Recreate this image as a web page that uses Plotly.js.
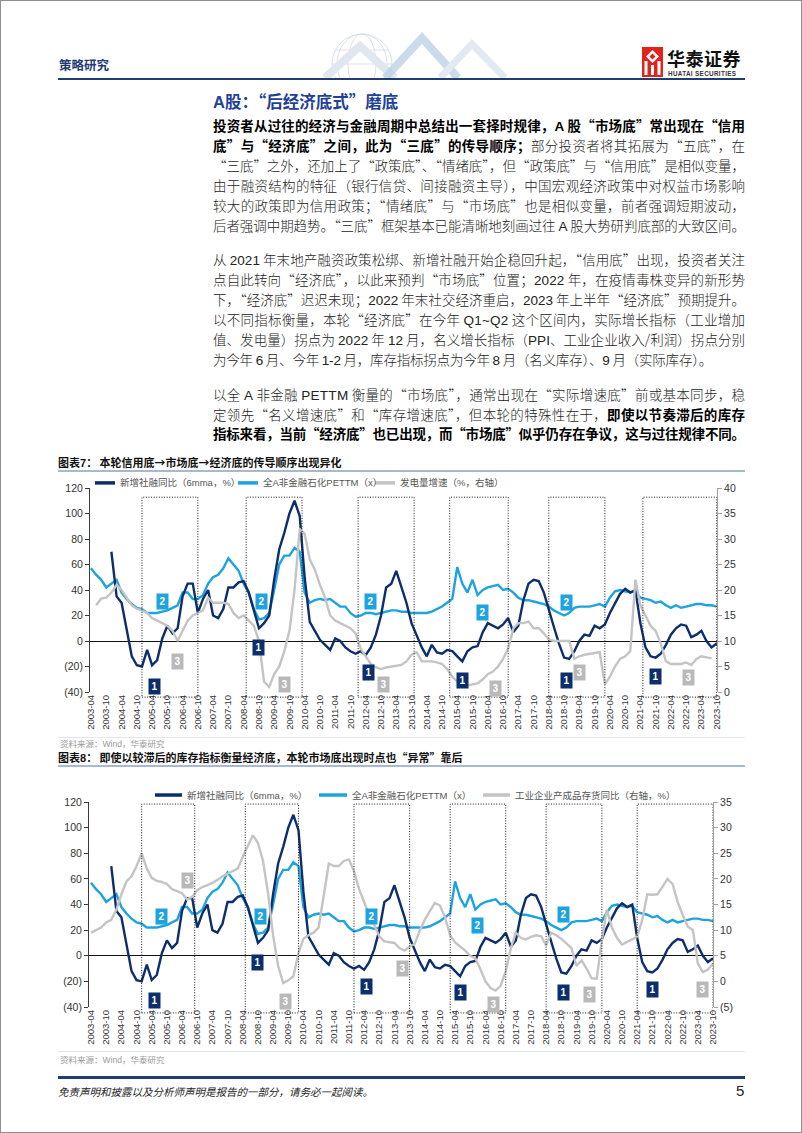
<!DOCTYPE html>
<html lang="zh-CN">
<head>
<meta charset="utf-8">
<title>A股：后经济底式磨底</title>
<script src="https://cdn.plot.ly/plotly-3.0.1.min.js"></script>
<style>
html,body{margin:0;padding:0;background:#fff;}
body{width:802px;height:1133px;position:relative;overflow:hidden;font-family:"Noto Sans CJK SC",sans-serif;color:#222;}
.frame{position:absolute;left:0;top:0;width:800px;height:1131px;border:1px solid #8f8f8f;pointer-events:none;z-index:5;}
.abs{position:absolute;white-space:nowrap;}
.lat{font-family:"Liberation Sans",Arial,sans-serif;}
.tl{position:absolute;left:213px;width:532px;height:20px;line-height:20px;font-size:13.5px;font-weight:300;color:#222;white-space:nowrap;}
.tl b{font-weight:700;color:#000;}
.hr{position:absolute;left:58px;width:687px;}
.ctitle{position:absolute;left:58px;font-size:11px;font-weight:700;color:#111;line-height:14px;white-space:nowrap;}
.src{position:absolute;left:60px;font-size:8.5px;color:#9a9a9a;line-height:12px;white-space:nowrap;}
.chart{position:absolute;left:0;width:802px;height:268px;}
</style>
</head>
<body>
<div class="frame"></div>

<!-- header -->
<svg class="abs" style="left:300px;top:28px" width="220" height="50" viewBox="0 0 220 50">
  <g fill="none" stroke="#d3dbe4" stroke-width="0.8">
    <circle cx="62" cy="36" r="30"/>
    <ellipse cx="62" cy="36" rx="14" ry="30"/>
    <ellipse cx="62" cy="36" rx="25" ry="30"/>
    <line x1="32" y1="36" x2="92" y2="36"/>
    <line x1="36" y1="22" x2="88" y2="22"/>
  </g>
  <polyline points="25,50 60,18 95,50" fill="none" stroke="#e1e7ee" stroke-width="8"/>
  <polyline points="85,50 122,10 158,50" fill="none" stroke="#b9cfe6" stroke-width="8" opacity="0.75"/>
  <polyline points="140,50 172,16 205,50" fill="none" stroke="#e3e9f0" stroke-width="7"/>
</svg>
<div class="abs" style="left:59px;top:56px;font-size:12.5px;font-weight:700;color:#1f3a74;line-height:18px;">策略研究</div>
<svg class="abs" style="left:642px;top:47px" width="21" height="30" viewBox="0 0 21 30">
  <rect x="0" y="0" width="21" height="30" fill="#e2231a"/>
  <path d="M10.5 3 L17 9.5 L10.5 16 L4 9.5Z" fill="#fff"/>
  <path d="M10.5 6.5 L13.5 9.5 L10.5 12.5 L7.5 9.5Z" fill="#e2231a"/>
  <rect x="2.5" y="14" width="3" height="14" fill="#fff"/>
  <rect x="15.5" y="14" width="3" height="14" fill="#fff"/>
  <rect x="9" y="18" width="3" height="10" fill="#fff"/>
</svg>
<div class="abs" style="left:667px;top:48px;font-size:18px;font-weight:700;color:#111;line-height:20px;letter-spacing:0.5px;">华泰证券</div>
<div class="abs lat" style="left:668px;top:69.5px;font-size:6.3px;font-weight:700;color:#333;line-height:7px;letter-spacing:0.35px;">HUATAI SECURITIES</div>
<div class="hr" style="top:78px;height:2px;background:#1f3d6e;"></div>

<!-- title -->
<div class="abs" style="left:213px;top:90px;font-size:16.5px;font-weight:700;color:#1e4196;line-height:22px;"><span class="lat">A</span>股：“后经济底式”磨底</div>

<!-- paragraph 1 -->
<div class="tl j" style="top:115px"><b>投资者从过往的经济与金融周期中总结出一套择时规律，A 股“市场底”常出现在“信用</b></div>
<div class="tl j" style="top:134.9px"><b>底”与“经济底”之间，此为“三底”的传导顺序；</b>部分投资者将其拓展为“五底”，在</div>
<div class="tl j" style="top:154.8px">“三底”之外，还加上了“政策底”、“情绪底”，但“政策底”与“信用底”是相似变量，</div>
<div class="tl j" style="top:174.7px">由于融资结构的特征（银行信贷、间接融资主导），中国宏观经济政策中对权益市场影响</div>
<div class="tl j" style="top:194.6px">较大的政策即为信用政策；“情绪底”与“市场底”也是相似变量，前者强调短期波动，</div>
<div class="tl j" style="top:214.5px">后者强调中期趋势。“三底”框架基本已能清晰地刻画过往 A 股大势研判底部的大致区间。</div>

<!-- paragraph 2 -->
<div class="tl j" style="top:249.3px">从 2021 年末地产融资政策松绑、新增社融开始企稳回升起，“信用底”出现，投资者关注</div>
<div class="tl j" style="top:269.2px">点自此转向“经济底”，以此来预判“市场底”位置；2022 年，在疫情毒株变异的新形势</div>
<div class="tl j" style="top:289.1px">下，“经济底”迟迟未现；2022 年末社交经济重启，2023 年上半年“经济底”预期提升。</div>
<div class="tl j" style="top:309px">以不同指标衡量，本轮“经济底”在今年 Q1~Q2 这个区间内，实际增长指标（工业增加</div>
<div class="tl j" style="top:328.9px">值、发电量）拐点为 2022 年 12 月，名义增长指标（PPI、工业企业收入/利润）拐点分别</div>
<div class="tl" style="top:348.8px;letter-spacing:-0.2px">为今年 6 月、今年 1-2 月，库存指标拐点为今年 8 月（名义库存）、9 月（实际库存）。</div>

<!-- paragraph 3 -->
<div class="tl j" style="top:383.6px">以全 A 非金融 PETTM 衡量的“市场底”，通常出现在“实际增速底”前或基本同步，稳</div>
<div class="tl j" style="top:403.5px">定领先“名义增速底”和“库存增速底”，但本轮的特殊性在于，<b>即使以节奏滞后的库存</b></div>
<div class="tl j" style="top:423.4px"><b>指标来看，当前“经济底”也已出现，而“市场底”似乎仍存在争议，这与过往规律不同。</b></div>

<!-- chart 7 -->
<div class="ctitle" style="top:455px">图表<span class="lat">7</span>：&nbsp;本轮信用底→市场底→经济底的传导顺序出现异化</div>
<div class="hr" style="top:470px;height:1.5px;background:#a7b9d1;"></div>
<div id="chart1" class="chart" style="top:470px"></div>
<div class="hr" style="top:737px;height:1px;background:#dfe6ef;"></div>
<div class="src" style="top:737px">资料来源：<span class="lat">Wind</span>，华泰研究</div>

<!-- chart 8 -->
<div class="ctitle" style="top:750px">图表<span class="lat">8</span>：&nbsp;即使以较滞后的库存指标衡量经济底，本轮市场底出现时点也“异常”靠后</div>
<div class="hr" style="top:765px;height:1.5px;background:#a7b9d1;"></div>
<div id="chart2" class="chart" style="top:782px"></div>
<div class="hr" style="top:1051px;height:1px;background:#dfe6ef;"></div>
<div class="src" style="top:1053px">资料来源：<span class="lat">Wind</span>，华泰研究</div>

<!-- footer -->
<div class="hr" style="top:1076px;height:2.5px;background:#1f3d6e;"></div>
<div class="abs" style="left:58px;top:1084px;font-size:10.5px;font-style:italic;color:#222;line-height:16px;">免责声明和披露以及分析师声明是报告的一部分，请务必一起阅读。</div>
<div class="abs lat" style="left:736px;top:1082px;font-size:15px;color:#222;line-height:18px;">5</div>

<script>
// ---------------- data ----------------
// sample dates, every second month from 2003-04 to 2023-10
const months = [];
for (let m = 0; m <= 246; m += 2) {
  const yr = 2003 + Math.floor((3 + m) / 12), mo = (3 + m) % 12 + 1;
  months.push(yr + '-' + String(mo).padStart(2, '0'));
}

// 新增社融同比（6mma，%） — left axis
const tsfYoY = [
  null,null,null,null,70,35,30,8,-12,-19,
  -20,-7,-19,-15,2,12,6,10,35,45,
  45,22,33,40,20,18,25,42,42,46,
  47,38,25,10,14,20,48,72,85,100,
  110,98,50,15,8,1,-3,-7,2,0,
  -5,-8,-10,-8,-11,-5,5,20,42,45,
  55,42,30,14,5,-5,-12,-3,-9,-10,
  -7,-8,-12,-16,-8,-5,-4,7,14,12,
  10,13,18,7,12,32,45,48,47,38,
  24,11,-2,-13,-14,-8,0,5,4,12,
  10,13,22,30,37,41,38,40,14,-5,
  -12,-13,-10,-3,5,10,13,12,3,5,
  8,0,-5,-2
];

// 全A非金融石化PETTM（x） — left axis
const peTTM = [
  57,52,48,42,45,48,38,33,29,26,
  25,22,22,22,23,24,26,28,38,38,
  33,33,36,45,50,52,57,65,60,55,
  45,38,25,17,18,22,40,60,67,67,
  73,70,38,30,32,33,32,33,30,27,
  27,22,19,20,22,22,21,22,23,24,
  24,23,23,22,22,22,22,23,25,27,
  30,33,58,45,38,48,36,40,42,43,
  44,40,41,38,34,32,32,31,30,29,
  27,24,22,20,22,26,27,27,27,28,
  29,27,34,39,40,39,38,39,34,33,
  32,30,31,28,26,28,26,27,28,29,
  29,28,28,27
];

// 发电量增速（%，右轴） — chart 7 right axis
const powerYoY = [
  null,17,18.3,18.5,19.5,21,20,18.5,17,16.3,
  16,15.5,14.5,14,13.5,13,12,10,12,14,
  15,15.5,16,18.5,17.5,17.5,17.5,17.3,15.5,14.5,
  15,14,13,10,2,1,3.5,5,8,12,
  20,32,31,26,24,21,18.5,15,14,13.5,
  13,12.5,11.5,8.5,7,5.5,4.8,4.5,4.8,5,
  5.2,5.3,6,7.3,7.8,6,6,6,5.8,5.5,
  4.5,3,2,1.5,1.3,1.5,1.7,2.5,3.5,4,
  5,6.5,8.5,12.5,13.5,13.5,13.8,12.5,12.5,11.5,
  10.3,10,10,10,10,6.5,7,7.3,7.5,7.7,
  7.8,1.5,3,5,6.5,7,8,22,17,15,
  13,12,9.5,6,5.5,5.5,5.5,5.8,5.3,6.5,
  7,6.8,6.6,null
];

// 工业企业产成品存货同比（右轴，%） — chart 8 right axis
const inventoryYoY = [
  9.5,10,10.5,11.5,12,14,17,19.5,20.5,22.5,
  25,22,20.2,19.6,19.4,19,18,17.6,17.2,16,
  16.5,17.8,18.4,18.8,19.2,19.8,20.5,21,21.5,22,
  24.3,26.5,28.5,27,23.5,17,9,3,-0.3,0.2,
  1,5.5,8.3,9,9.5,10.5,17,23,22.5,22.5,
  23.5,23.8,21.5,18,15.5,13,11,8.8,7.8,7.7,
  7.5,6.5,6,6.8,7.3,10,12,13.7,15.3,14.8,
  12.5,9,7.6,6.8,6,5,4.5,2.3,0,-1.3,
  -1.8,-0.8,2,6.5,9.5,8.5,8.2,8.7,9,8.8,
  7,9.5,9,8.3,7.5,6.5,3,4.1,2.5,0.6,
  0.5,8,14,10.5,8.5,7.2,7.7,8.3,8.7,12,
  17,16.9,17,18.5,20,19,15.5,13,10.7,10,
  3.5,1.8,2.3,3.5
];

const names7 = ['新增社融同比（6mma，%）', '全A非金融石化PETTM（x）', '发电量增速（%，右轴）'];
const names8 = ['新增社融同比（6mma，%）', '全A非金融石化PETTM（x）', '工业企业产成品存货同比（右轴，%）'];

const leftTicks = [-40, -20, 0, 20, 40, 60, 80, 100, 120];
const right7Ticks = [0, 5, 10, 15, 20, 25, 30, 35, 40];
const right8Ticks = [-5, 0, 5, 10, 15, 20, 25, 30, 35];

// periods marked with dotted boxes
const boxStart7 = ['2004-12', '2008-05', '2012-01', '2015-01', '2018-04', '2021-05'];
const boxEnd7   = ['2006-10', '2010-03', '2013-11', '2016-12', '2020-02', '2023-10'];
const boxStart8 = ['2004-12', '2008-05', '2011-12', '2015-02', '2018-04', '2021-04'];
const boxEnd8   = ['2006-09', '2010-02', '2013-10', '2016-12', '2020-02', '2023-10'];

// numbered markers: [text, date, left-axis value]
const marks7 = [
  ['2','2005-08',31],['3','2006-02',-16],['1','2005-05',-36],
  ['2','2008-11',31],['1','2008-10',-5],['3','2009-08',-34],
  ['2','2012-06',31],['1','2012-05',-25],['3','2012-11',-34],
  ['2','2016-02',22],['1','2015-06',-31],['3','2016-07',-37],
  ['2','2018-11',30],['1','2018-11',-31],['3','2019-04',-25],
  ['1','2021-10',-28],['3','2022-11',-29]
];
const marks8 = [
  ['3','2006-06',59],['2','2005-08',31],['1','2005-05',-35],
  ['2','2008-11',31],['1','2008-10',-5],['3','2009-09',-36],
  ['2','2012-07',31],['1','2012-05',-24],['3','2013-07',-10],
  ['2','2016-01',24],['1','2015-06',-29],['3','2016-07',-38],
  ['2','2018-11',32],['1','2018-11',-29],['3','2019-09',-30],
  ['1','2021-10',-26],['3','2023-06',-26]
];

// ---------------- styling ----------------
const C = {navy: '#0d2e6c', light: '#1fa3e0', gray: '#c4c4c4'};
const markColor = {'1': C.navy, '2': C.light, '3': '#b9b9b9'};
const fmtNeg = v => v < 0 ? '(' + (-v) + ')' : String(v);

function drawChart(id, o) {
  const traces = [
    {x: months, y: peTTM, name: o.names[1], type: 'scatter', mode: 'lines',
     line: {color: C.light, width: 2.4}, hoverinfo: 'skip'},
    {x: months, y: tsfYoY, name: o.names[0], type: 'scatter', mode: 'lines',
     line: {color: C.navy, width: 2.4}, hoverinfo: 'skip'},
    {x: months, y: o.gray, name: o.names[2], type: 'scatter', mode: 'lines', yaxis: 'y2',
     line: {color: C.gray, width: 2.4}, hoverinfo: 'skip'}
  ];
  const W = 802, H = 268;
  const pw = W - o.m.l - o.m.r;
  const px = v => (v - o.m.l) / pw;
  const shapes = [], annotations = [];
  o.boxStart.forEach((s, i) => shapes.push({
    type: 'rect', xref: 'x', yref: 'paper', x0: s, x1: o.boxEnd[i], y0: o.boxY[0], y1: o.boxY[1],
    line: {color: '#1a1a1a', width: 1, dash: '1px,1.6px'}, fillcolor: 'rgba(0,0,0,0)', layer: 'above'
  }));
  const legColors = [C.navy, C.light, C.gray];
  o.legend.forEach((lg, i) => {
    shapes.push({type: 'line', xref: 'paper', yref: 'paper', x0: px(lg[0]), x1: px(lg[1]),
      y0: o.legendY, y1: o.legendY, line: {color: legColors[i], width: 3.5}});
    annotations.push({xref: 'paper', yref: 'paper', x: px(lg[2]), y: o.legendY, xanchor: 'left',
      yanchor: 'middle', showarrow: false, text: o.names[i],
      font: {size: 9.5, color: '#555', family: 'Liberation Sans, Noto Sans CJK SC'}});
  });
  o.marks.forEach(mk => annotations.push({
    x: mk[1], y: mk[2], xref: 'x', yref: 'y', text: '<b>' + mk[0] + '</b>', showarrow: false,
    font: {size: 10, color: '#fff', family: 'Liberation Sans'}, bgcolor: markColor[mk[0]],
    width: 9, height: 13, borderpad: 1, align: 'center', valign: 'middle'
  }));
  const layout = {
    width: W, height: H, margin: o.m, showlegend: false, hovermode: false,
    paper_bgcolor: 'rgba(0,0,0,0)', plot_bgcolor: 'rgba(0,0,0,0)',
    font: {family: 'Liberation Sans, Noto Sans CJK SC', size: 10, color: '#333'},
    xaxis: {type: 'date', range: o.xrange, tickformat: '%Y-%m', dtick: 'M6', tick0: '2003-04-01',
      tickangle: -90, showgrid: false, showline: false, ticks: '', zeroline: false,
      tickfont: {size: 9.5, color: '#333'}},
    yaxis: {range: [-40, 120], tickvals: leftTicks, ticktext: leftTicks.map(fmtNeg),
      showline: true, linecolor: '#3a3a3a', linewidth: 1, ticks: 'outside', ticklen: 4,
      tickcolor: '#3a3a3a', showgrid: false, zeroline: true, zerolinecolor: '#111', zerolinewidth: 1,
      tickfont: {size: 10.5, color: '#333'}},
    yaxis2: {overlaying: 'y', side: 'right', range: o.y2range, tickvals: o.y2ticks,
      ticktext: o.y2ticks.map(fmtNeg), showline: true, linecolor: '#a0a0a0', linewidth: 1,
      ticks: 'outside', ticklen: 4, tickcolor: '#a0a0a0', showgrid: false, zeroline: false,
      tickfont: {size: 10.5, color: '#333'}},
    shapes: shapes, annotations: annotations
  };
  Plotly.newPlot(id, traces, layout, {staticPlot: true, displayModeBar: false});
}

drawChart('chart1', {
  names: names7, gray: powerYoY, m: {l: 90, r: 85, t: 18, b: 46},
  xrange: ['2003-03-20', '2023-10-05'], y2range: [0, 40], y2ticks: right7Ticks,
  boxStart: boxStart7, boxEnd: boxEnd7, boxY: [-0.025, 0.955], marks: marks7,
  legend: [[95, 115, 118], [238, 258, 261], [375, 395, 398]], legendY: 1.025
});
drawChart('chart2', {
  names: names8, gray: inventoryYoY, m: {l: 89, r: 89, t: 20, b: 43},
  xrange: ['2003-03-08', '2023-10-01'], y2range: [-5, 35], y2ticks: right8Ticks,
  boxStart: boxStart8, boxEnd: boxEnd8, boxY: [-0.029, 0.99], marks: marks8,
  legend: [[155, 182, 185], [319, 347, 350], [483, 510, 513]], legendY: 1.034
});

// ---------------- body text: latin runs + justification ----------------
function wrapLatin(root) {
  const walker = document.createTreeWalker(root, NodeFilter.SHOW_TEXT);
  const nodes = [];
  while (walker.nextNode()) nodes.push(walker.currentNode);
  nodes.forEach(n => {
    const t = n.nodeValue, re = /[A-Za-z0-9][A-Za-z0-9~\/\-\.]*/g;
    if (!re.test(t)) return;
    re.lastIndex = 0;
    const frag = document.createDocumentFragment();
    let last = 0, mm;
    while ((mm = re.exec(t))) {
      if (mm.index > last) frag.appendChild(document.createTextNode(t.slice(last, mm.index)));
      const sp = document.createElement('span');
      sp.className = 'lat'; sp.textContent = mm[0];
      frag.appendChild(sp);
      last = mm.index + mm[0].length;
    }
    if (last < t.length) frag.appendChild(document.createTextNode(t.slice(last)));
    n.parentNode.replaceChild(frag, n);
  });
}
document.querySelectorAll('.tl').forEach(wrapLatin);
document.querySelectorAll('.tl.j').forEach(el => {
  const inner = document.createElement('span');
  while (el.firstChild) inner.appendChild(el.firstChild);
  el.appendChild(inner);
});
function justify() {
  document.querySelectorAll('.tl.j').forEach(el => {
    el.style.letterSpacing = '0px';
    const w = el.firstChild.getBoundingClientRect().width;
    const n = el.textContent.length;
    el.style.letterSpacing = ((532 - w) / (n - 1)) + 'px';
  });
}
justify();
if (document.fonts && document.fonts.ready) document.fonts.ready.then(justify);
</script>
</body>
</html>
